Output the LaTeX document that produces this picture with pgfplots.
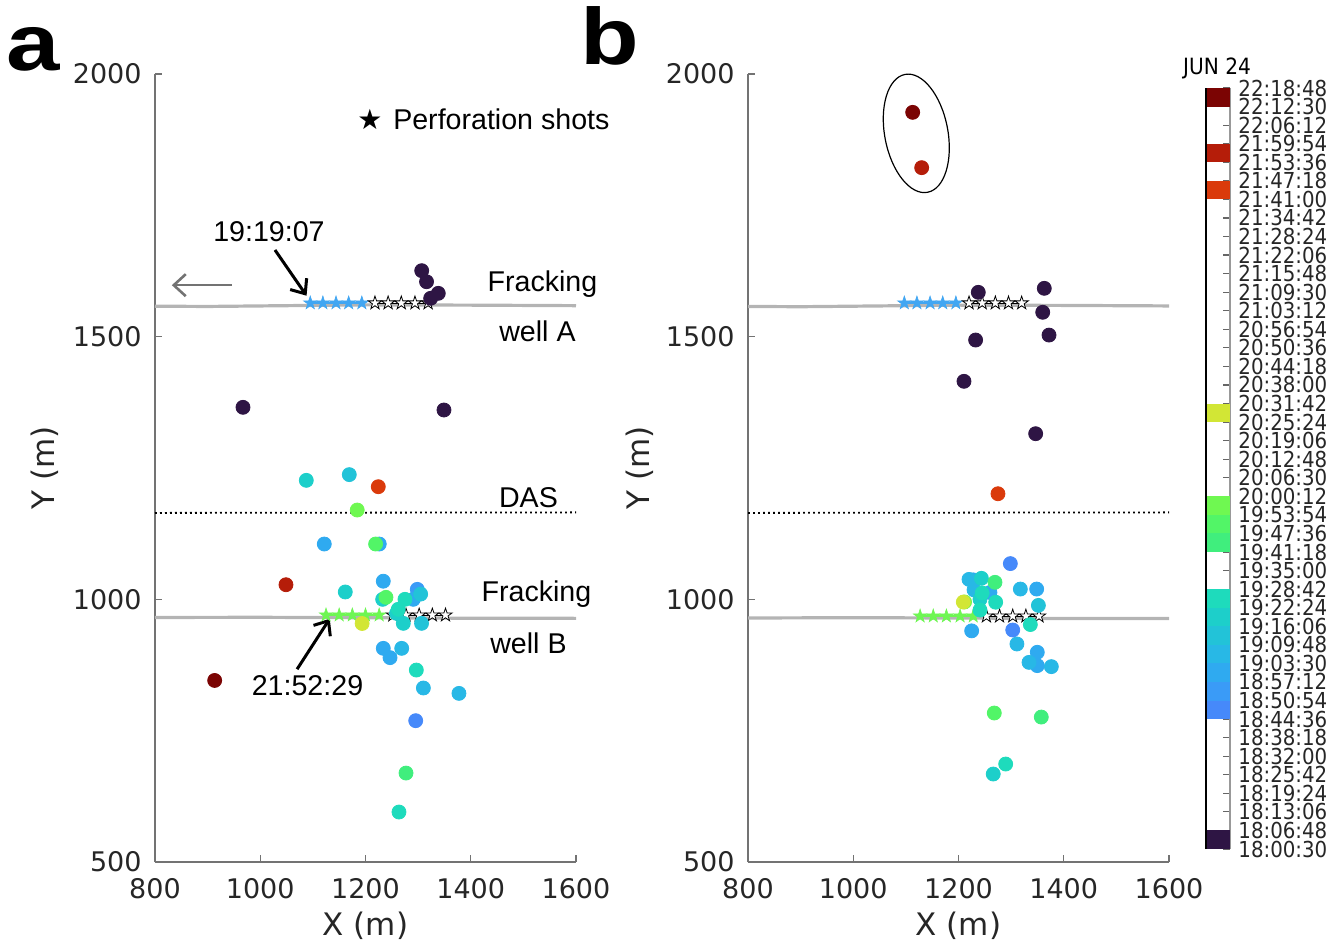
\documentclass[border=0pt]{standalone}
\usepackage{fontspec}
\usepackage{graphicx}
\usepackage{pgfplots}
\pgfplotsset{compat=1.18}
\usepackage{pgfplotstable}
\usetikzlibrary{arrows.meta}
\setmainfont{Liberation Sans}
\newfontfamily\djv{DejaVu Sans}
\newfontfamily\djvc[FakeStretch=0.9]{DejaVu Sans}

\definecolor{c0}{HTML}{2E1544}
\definecolor{c7}{HTML}{4689FA}
\definecolor{c8}{HTML}{3A9BF7}
\definecolor{c9}{HTML}{2FAAF0}
\definecolor{c10}{HTML}{28B8E6}
\definecolor{c11}{HTML}{22C3D8}
\definecolor{c12}{HTML}{1DCFCA}
\definecolor{c13}{HTML}{1EDBBC}
\definecolor{c16}{HTML}{40EE7D}
\definecolor{c17}{HTML}{52F567}
\definecolor{c18}{HTML}{6FF851}
\definecolor{c23}{HTML}{D2E635}
\definecolor{c35}{HTML}{DA3A0B}
\definecolor{c37}{HTML}{B51D09}
\definecolor{c40}{HTML}{7B0403}
\definecolor{starblue}{HTML}{41A6F2}
\definecolor{stargreen}{HTML}{6EF653}
\definecolor{wellgray}{HTML}{B4B4B4}
\definecolor{txt}{HTML}{262626}

\pgfdeclareplotmark{fstar}{%
  \pgfpathmoveto{\pgfpointpolar{90}{\pgfplotmarksize}}%
  \pgfpathlineto{\pgfpointpolar{126}{0.382\pgfplotmarksize}}%
  \pgfpathlineto{\pgfpointpolar{162}{\pgfplotmarksize}}%
  \pgfpathlineto{\pgfpointpolar{198}{0.382\pgfplotmarksize}}%
  \pgfpathlineto{\pgfpointpolar{234}{\pgfplotmarksize}}%
  \pgfpathlineto{\pgfpointpolar{270}{0.382\pgfplotmarksize}}%
  \pgfpathlineto{\pgfpointpolar{306}{\pgfplotmarksize}}%
  \pgfpathlineto{\pgfpointpolar{342}{0.382\pgfplotmarksize}}%
  \pgfpathlineto{\pgfpointpolar{18}{\pgfplotmarksize}}%
  \pgfpathlineto{\pgfpointpolar{54}{0.382\pgfplotmarksize}}%
  \pgfpathclose
  \pgfusepathqfillstroke
}

% panel a events: X Y colour-bin
\pgfplotstableread{
x y c
1306.8 1625.6 b0
1316.0 1604.6 b0
1323.8 1573.0 b0
1338.3 1582.5 b0
967.2 1365.5 b0
1349.1 1360.4 b0
1295.4 769.0 b7
1298.4 1019.0 b8
1121.7 1105.3 b9
1226.2 1105.3 b9
1233.8 1034.5 b9
1290.8 1000.0 b9
1233.8 906.7 b9
1246.6 889.0 b9
1268.8 906.7 b10
1310.0 831.2 b10
1377.6 821.0 b10
1169.2 1237.4 b11
1304.8 1010.0 b11
1306.5 954.3 b11
1087.5 1226.5 b12
1161.6 1014.0 b12
1232.6 1000.0 b12
1271.8 954.3 b12
1259.0 973.3 b12
1275.0 1000.0 b13
1262.2 981.0 b13
1296.6 865.4 b13
1263.6 595.1 b13
1277.0 669.3 b16
1219.2 1105.3 b17
1238.9 1003.8 b17
1184.3 1170.0 b18
1193.6 954.0 b23
1224.3 1214.4 b35
1048.9 1027.8 b37
913.4 845.6 b40
}\ptsA

% panel b events
\pgfplotstableread{
x y c
1237.6 1584.4 b0
1363.0 1592.0 b0
1360.0 1546.4 b0
1372.0 1503.0 b0
1232.5 1493.6 b0
1210.4 1415.0 b0
1346.6 1315.3 b0
1298.5 1068.0 b7
1303.0 941.6 b7
1228.0 1037.0 b9
1259.8 1013.0 b9
1348.5 1019.6 b9
1225.0 940.0 b9
1349.7 899.2 b9
1349.7 873.8 b9
1219.9 1038.0 b10
1229.5 1018.0 b10
1317.5 1019.6 b10
1311.0 915.0 b10
1334.0 880.0 b10
1376.4 871.9 b10
1351.8 988.5 b11
1243.5 1040.0 b12
1240.8 1000.0 b12
1266.0 667.5 b12
1245.0 1012.0 b13
1270.6 994.5 b13
1240.8 979.6 b13
1336.5 952.0 b13
1289.6 686.5 b13
1269.3 1032.4 b16
1357.3 775.9 b16
1268.0 783.6 b17
1211.5 995.0 b18
1209.1 994.8 b23
1275.0 1201.0 b35
1130.0 1821.7 b37
1112.9 1927.0 b40
}\ptsB

\pgfplotsset{
  panel/.style={
    scale only axis, width=210.5pt, height=394pt, anchor=south west,
    xmin=800, xmax=1600, ymin=500, ymax=2000,
    xtick={800,1000,1200,1400,1600}, ytick={500,1000,1500,2000},
    axis lines*=left, tick align=inside, major tick length=3.5pt,
    axis line style={black!55, line width=0.6pt},
    tick style={black!55, line width=0.6pt},
    /pgf/number format/assume math mode=true,
    /pgf/number format/1000 sep={},
    tick label style={font=\fontsize{13.5}{14}\djv, text=txt},
    xticklabel style={anchor=north, inner sep=0pt, yshift=-8pt},
    yticklabel style={anchor=east, inner sep=0pt, xshift=-6.5pt},
    label style={font=\fontsize{15.5}{16}\djv, text=txt},
    xlabel={X (m)}, ylabel={Y (m)},
    xlabel style={at={(axis description cs:0.5,-0.0812)}, anchor=center},
    clip=false,
  },
  evts/.style={
    scatter, only marks, mark=*, mark size=3.5pt,
    scatter src=explicit symbolic,
    scatter/classes={
      b0={mark=*,c0}, b7={mark=*,c7}, b8={mark=*,c8}, b9={mark=*,c9},
      b10={mark=*,c10}, b11={mark=*,c11}, b12={mark=*,c12}, b13={mark=*,c13},
      b16={mark=*,c16}, b17={mark=*,c17}, b18={mark=*,c18}, b23={mark=*,c23},
      b35={mark=*,c35}, b37={mark=*,c37}, b40={mark=*,c40}},
  },
  bluestars/.style={color=starblue, line width=0.9pt, mark=fstar, mark size=3.5pt,
    mark options={fill=starblue, draw=starblue, line width=0.3pt}},
  greenstars/.style={color=stargreen, line width=0.9pt, mark=fstar, mark size=3.5pt,
    mark options={fill=stargreen, draw=stargreen, line width=0.3pt}},
  whitestars/.style={color=black, line width=0.4pt, mark=fstar, mark size=3.5pt,
    mark options={fill=white, draw=black, line width=0.4pt}},
}

\begin{document}
\begin{tikzpicture}
\useasboundingbox (0,0) rectangle (668.5pt,471.5pt);

% ---------------- panel a ----------------
\begin{axis}[panel, at={(77.5pt,40.5pt)},
  ylabel style={at={(axis description cs:-0.2613,0.5)}, anchor=center}]
\addplot[no marks, color=wellgray, line width=1.6pt] coordinates {(800,1558) (900,1557.5) (1000,1558.5) (1200,1560.5) (1400,1560) (1600,1559)};
\addplot[no marks, color=wellgray, line width=1.6pt] coordinates {(800,965.5) (1000,965.8) (1200,965) (1400,964) (1600,963.8)};
\addplot[no marks, black, line width=0.9pt, dash pattern=on 0.9pt off 1.6pt] coordinates {(800,1164.5) (1600,1165.5)};
\addplot[bluestars] coordinates {(1095,1564) (1119,1564) (1144,1564) (1168,1564) (1193,1564)};
\addplot[whitestars] coordinates {(1218,1564) (1243,1564) (1268,1564) (1294,1564) (1319,1564)};
\addplot[greenstars] coordinates {(1125,970) (1150,970) (1175,970) (1200,970) (1226,970)};
\addplot[whitestars] coordinates {(1252,970) (1277,970) (1302,970) (1327,970) (1352,970)};
\addplot[evts] table[x=x, y=y, meta=c] {\ptsA};
% annotations
\draw[-{Straight Barb[length=6pt,width=11pt]}, black!55, line width=1.3pt] (axis cs:946,1598) -- (axis cs:832,1598);
\draw[-{Straight Barb[length=6pt,width=10pt]}, black, line width=1.5pt] (axis cs:1028,1665) -- (axis cs:1088,1578);
\draw[-{Straight Barb[length=6pt,width=10pt]}, black, line width=1.5pt] (axis cs:1070,867) -- (axis cs:1132,963);
\node[inner sep=0pt] at (axis cs:1016.6,1699.2) {\fontsize{14.3}{14.3}\selectfont 19:19:07};
\node[inner sep=0pt] at (axis cs:1089.8,834.9) {\fontsize{14.3}{14.3}\selectfont 21:52:29};
\node[inner sep=0pt] at (axis cs:1536.3,1599.3) {\fontsize{14.3}{14.3}\selectfont Fracking};
\node[inner sep=0pt] at (axis cs:1526.8,1510.8) {\fontsize{14.3}{14.3}\selectfont well A};
\node[inner sep=0pt] at (axis cs:1509.7,1192.8) {\fontsize{14.3}{14.3}\selectfont DAS};
\node[inner sep=0pt] at (axis cs:1524.9,1009.1) {\fontsize{14.3}{14.3}\selectfont Fracking};
\node[inner sep=0pt] at (axis cs:1509.7,916.8) {\fontsize{14.3}{14.3}\selectfont well B};
\node[inner sep=0pt] at (axis cs:1208.5,1914.3) {\fontsize{14}{14}\djv ★};
\node[anchor=west, inner sep=0pt] at (axis cs:1252,1914.3) {\fontsize{14.3}{14.3}\selectfont Perforation shots};
\end{axis}

% ---------------- panel b ----------------
\begin{axis}[panel, at={(374pt,40.5pt)},
  ylabel style={at={(axis description cs:-0.2565,0.5)}, anchor=center}]
\addplot[no marks, color=wellgray, line width=1.6pt] coordinates {(800,1557.5) (900,1557) (1000,1558) (1200,1560) (1400,1559.5) (1600,1558.5)};
\addplot[no marks, color=wellgray, line width=1.6pt] coordinates {(800,964.5) (1000,965) (1200,964.5) (1400,963.5) (1600,963.5)};
\addplot[no marks, black, line width=0.9pt, dash pattern=on 0.9pt off 1.6pt] coordinates {(800,1164.5) (1600,1165.5)};
\addplot[bluestars] coordinates {(1097,1564) (1121,1564) (1146,1564) (1170,1564) (1195,1564)};
\addplot[whitestars] coordinates {(1220,1564) (1245,1564) (1270,1564) (1295,1564) (1320,1564)};
\addplot[greenstars] coordinates {(1127,968) (1152,968) (1177,968) (1203,968) (1228,968)};
\addplot[whitestars] coordinates {(1253,968) (1278,968) (1303,968) (1328,968) (1353,968)};
\addplot[evts] table[x=x, y=y, meta=c] {\ptsB};
\draw[black, line width=0.6pt, rotate around={10.8:(axis cs:1119.8,1887)}] (axis cs:1119.8,1887) ellipse [x radius=15.8pt, y radius=30pt];
\end{axis}

% ---------------- colour bar ----------------
\begin{axis}[
  at={(603pt,47pt)}, anchor=south west, scale only axis, width=12pt, height=380.5pt,
  xmin=0, xmax=1, ymin=0, ymax=41,
  axis x line=none, axis y line*=right,
  ytick={0,1,...,41},
  yticklabels={18:00:30,18:06:48,18:13:06,18:19:24,18:25:42,18:32:00,18:38:18,18:44:36,18:50:54,18:57:12,19:03:30,19:09:48,19:16:06,19:22:24,19:28:42,19:35:00,19:41:18,19:47:36,19:53:54,20:00:12,20:06:30,20:12:48,20:19:06,20:25:24,20:31:42,20:38:00,20:44:18,20:50:36,20:56:54,21:03:12,21:09:30,21:15:48,21:22:06,21:28:24,21:34:42,21:41:00,21:47:18,21:53:36,21:59:54,22:06:12,22:12:30,22:18:48},
  tick align=inside, major tick length=3.5pt,
  axis line style={black!40, line width=0.6pt},
  tick style={black!60, line width=0.6pt},
  yticklabel style={anchor=west, inner sep=0pt, xshift=4pt, font=\fontsize{11}{11}\djvc, text=txt},
  clip=false,
]
\addplot[draw=none, fill=c0] coordinates {(0,0) (1,0) (1,1) (0,1)};
\addplot[draw=none, fill=c7] coordinates {(0,7) (1,7) (1,8) (0,8)};
\addplot[draw=none, fill=c8] coordinates {(0,8) (1,8) (1,9) (0,9)};
\addplot[draw=none, fill=c9] coordinates {(0,9) (1,9) (1,10) (0,10)};
\addplot[draw=none, fill=c10] coordinates {(0,10) (1,10) (1,11) (0,11)};
\addplot[draw=none, fill=c11] coordinates {(0,11) (1,11) (1,12) (0,12)};
\addplot[draw=none, fill=c12] coordinates {(0,12) (1,12) (1,13) (0,13)};
\addplot[draw=none, fill=c13] coordinates {(0,13) (1,13) (1,14) (0,14)};
\addplot[draw=none, fill=c16] coordinates {(0,16) (1,16) (1,17) (0,17)};
\addplot[draw=none, fill=c17] coordinates {(0,17) (1,17) (1,18) (0,18)};
\addplot[draw=none, fill=c18] coordinates {(0,18) (1,18) (1,19) (0,19)};
\addplot[draw=none, fill=c23] coordinates {(0,23) (1,23) (1,24) (0,24)};
\addplot[draw=none, fill=c35] coordinates {(0,35) (1,35) (1,36) (0,36)};
\addplot[draw=none, fill=c37] coordinates {(0,37) (1,37) (1,38) (0,38)};
\addplot[draw=none, fill=c40] coordinates {(0,40) (1,40) (1,41) (0,41)};
\draw[black, line width=0.8pt] (rel axis cs:0,0) -- (rel axis cs:0,1);
\end{axis}

\node[anchor=base, inner sep=0pt] at (608.5pt,434pt) {\fontsize{11.2}{11.2}\djvc JUN 24};
\node[anchor=base west, inner sep=0pt] at (3pt,436pt) {\scalebox{1.2}[1]{\fontsize{40}{40}\selectfont\bfseries a}};
\node[anchor=base west, inner sep=0pt] at (290pt,439pt) {\scalebox{1.2}[1]{\fontsize{40}{40}\selectfont\bfseries b}};
\end{tikzpicture}
\end{document}
